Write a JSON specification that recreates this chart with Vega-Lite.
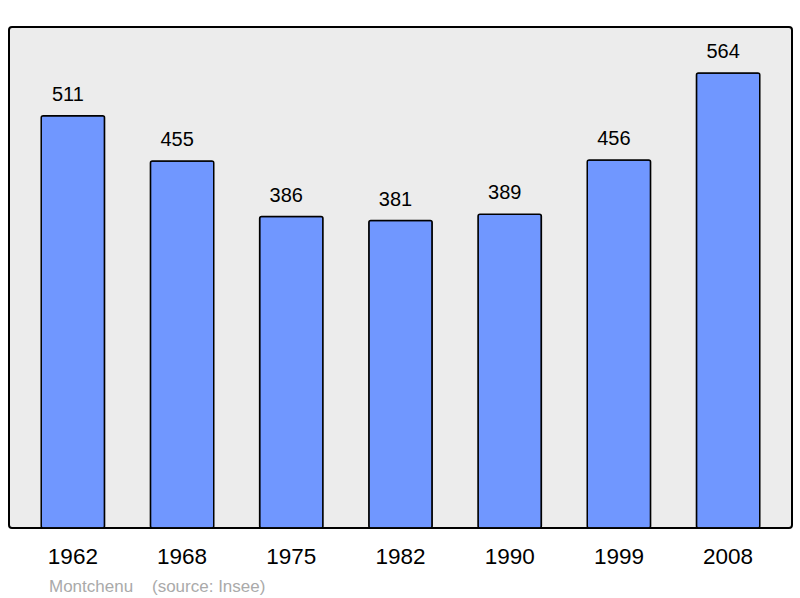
{
  "$schema": "https://vega.github.io/schema/vega-lite/v6.json",
  "autosize": {"type": "none"},
  "width": 783,
  "height": 501,
  "padding": {"left": 9, "top": 27, "right": 8, "bottom": 70},
  "background": "white",
  "config": {
    "font": "Liberation Sans",
    "view": {"fill": "#ececec", "stroke": "black", "strokeWidth": 2, "cornerRadius": 3}
  },
  "title": {
    "text": "Montchenu\u00a0\u00a0\u00a0\u00a0(source: Insee)",
    "orient": "bottom",
    "anchor": "start",
    "dx": 40,
    "offset": 11,
    "font": "Liberation Sans",
    "fontSize": 17,
    "fontWeight": "normal",
    "color": "#aaaaaa"
  },
  "data": {
    "values": [
      {"year": "1962", "pop": 511},
      {"year": "1968", "pop": 455},
      {"year": "1975", "pop": 386},
      {"year": "1982", "pop": 381},
      {"year": "1990", "pop": 389},
      {"year": "1999", "pop": 456},
      {"year": "2008", "pop": 564}
    ]
  },
  "encoding": {
    "x": {
      "field": "year",
      "type": "ordinal",
      "scale": {"paddingInner": 0.42, "paddingOuter": 0.295},
      "axis": {
        "title": null,
        "labelAngle": 0,
        "labelFontSize": 22.5,
        "labelColor": "black",
        "labelPadding": 17,
        "ticks": false,
        "domain": false
      }
    },
    "y": {
      "field": "pop",
      "type": "quantitative",
      "scale": {"domain": [0, 621], "nice": false},
      "axis": null
    }
  },
  "layer": [
    {
      "mark": {"type": "bar", "fill": "#7097ff", "stroke": "black", "strokeWidth": 1.5, "cornerRadius": 2}
    },
    {
      "mark": {"type": "text", "baseline": "alphabetic", "dy": -15, "dx": -5, "fontSize": 20, "color": "black"},
      "encoding": {"text": {"field": "pop", "type": "quantitative"}}
    }
  ]
}
